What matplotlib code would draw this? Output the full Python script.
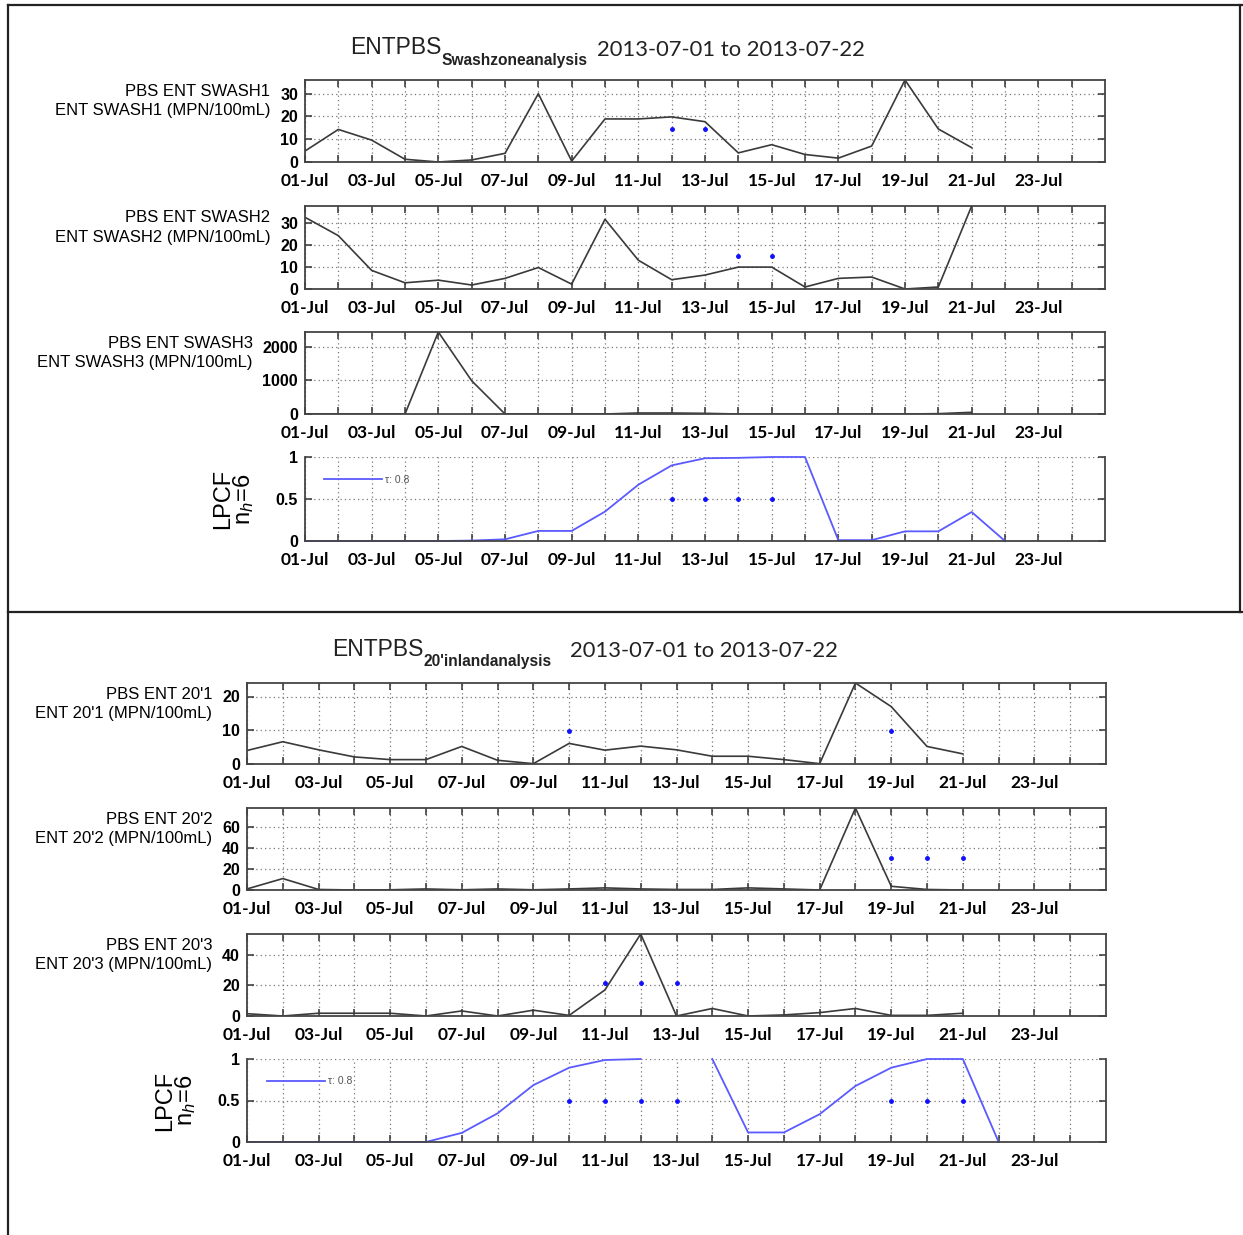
import numpy as np
import matplotlib
matplotlib.use("Agg")
import matplotlib.pyplot as plt
from matplotlib.lines import Line2D
from matplotlib.ticker import FormatStrFormatter

plt.rcParams['font.family'] = ['Liberation Sans', 'DejaVu Sans']
plt.rcParams['mathtext.fontset'] = 'custom'
plt.rcParams['mathtext.rm'] = 'Liberation Sans'
plt.rcParams['mathtext.it'] = 'Liberation Sans:italic'

# ---- data (day of July) ----
days = np.arange(1, 22)
lpcf_days = np.arange(1, 23)
tick_days = np.arange(1, 25)
tick_labels = ['01-Jul', '03-Jul', '05-Jul', '07-Jul', '09-Jul', '11-Jul',
               '13-Jul', '15-Jul', '17-Jul', '19-Jul', '21-Jul', '23-Jul']

# swash zone
swash1 = [4.8, 14.3, 9.6, 1.2, 0, 0.9, 3.8, 30, 0.4, 18.9, 18.9, 19.8, 17.7,
          4, 7.6, 3.3, 1.7, 7, 36, 14.5, 6.3]
swash2 = [32.4, 24.1, 8.4, 2.8, 4, 1.8, 4.8, 9.7, 2.2, 31.5, 13, 4.2, 6.3,
          9.9, 9.9, 0.9, 4.8, 5.4, 0, 0.9, 37.5]
swash3 = [0, 0, 0, 0, 2430, 985, 0, 0, 0, 0, 30, 30, 20, 0, 0, 0, 0, 0, 0,
          10, 50]
lpcf_swash = [0, 0, 0, 0, 0, 0.005, 0.02, 0.12, 0.12, 0.35, 0.67, 0.9, 0.985,
              0.99, 1.0, 1.0, 0.01, 0.01, 0.115, 0.115, 0.345, 0.0]

swash1_dot_days, swash1_dot_vals = [12, 13], [14.3, 14.3]
swash2_dot_days, swash2_dot_vals = [14, 15], [15.1, 15.1]
lpcf_swash_dot_days = [12, 13, 14, 15]

# 20' inland
inl1 = [4.0, 6.6, 4.2, 2.1, 1.3, 1.3, 5.2, 1.1, 0.1, 6.1, 4.1, 5.3, 4.2,
        2.3, 2.3, 1.3, 0.1, 24, 17, 5.2, 3.0]
inl2 = [1, 10.8, 0.5, 0, 0.2, 1, 0.2, 1, 0.2, 1, 2, 1, 0.5, 0.5, 2, 1, 0,
        77.5, 3.5, 0.5, 0]
inl3 = [1.5, 0, 1.8, 1.8, 1.8, 0, 3.3, 0, 3.8, 0.4, 17, 53.5, 0, 4.9, 0,
        0.7, 2.2, 4.9, 0.4, 0.4, 1.8]
lpcf_inland = [0, 0, 0, 0, 0, 0, 0.11, 0.345, 0.685, 0.895, 0.988, 1.0,
               np.nan, 1.0, 0.115, 0.115, 0.335, 0.675, 0.895, 1.0, 1.0, 0.0]

inl1_dot_days, inl1_dot_vals = [10, 19], [9.7, 9.7]
inl2_dot_days, inl2_dot_vals = [19, 20, 21], [30.3, 30.3, 30.3]
inl3_dot_days, inl3_dot_vals = [11, 12, 13], [21.3, 21.3, 21.3]
lpcf_inland_dot_days = [10, 11, 12, 13, 19, 20, 21]

W, H = 1243, 1235
fig = plt.figure(figsize=(W / 100, H / 100), dpi=100)


def box(x0, y0, x1, y1):
    # pixel box (top-left origin) -> figure fraction rect
    return [x0 / W, 1 - y1 / H, (x1 - x0) / W, (y1 - y0) / H]


def style_axis(ax, yticks, ymax):
    ax.set_xlim(1, 25)
    ax.set_ylim(0, ymax)
    ax.set_xticks(tick_days)
    labels = [tick_labels[i // 2] if i % 2 == 0 else '' for i in range(len(tick_days))]
    ax.set_xticklabels(labels, fontfamily='Lato', fontweight='bold', fontsize=12.5)
    ax.set_yticks(yticks)
    ax.yaxis.set_major_formatter(FormatStrFormatter('%g'))
    for lab in ax.get_yticklabels():
        lab.set_fontweight('bold')
        lab.set_fontsize(11.5)
    ax.tick_params(direction='in', top=True, right=True, length=5, width=1.1,
                   color='#333333')
    ax.tick_params(axis='x', pad=8)
    ax.tick_params(axis='y', pad=5)
    ax.grid(True, linestyle=(0, (1, 2.5)), color='#777777', linewidth=0.9)
    for s in ax.spines.values():
        s.set_linewidth(1.3)
        s.set_color('#444444')


def data_axis(rect, vals, dot_days, dot_vals, name, unit, yticks):
    ax = fig.add_axes(rect)
    ax.plot(days, vals, color='#3a3a3a', linewidth=1.2)
    ax.plot(dot_days, dot_vals, 'o', color='#1010ff', markersize=2.5)
    style_axis(ax, yticks, np.nanmax(vals))
    ax.set_ylabel(name + '\n' + unit, rotation=0, ha='right', va='center',
                  y=0.74, fontsize=12, labelpad=7, linespacing=1.35)
    return ax


def lpcf_axis(rect, vals, dot_days):
    ax = fig.add_axes(rect)
    ax.plot(lpcf_days, vals, color='#5a5aff', linewidth=1.3, label='τ: 0.8',
            clip_on=False)
    ax.plot(dot_days, [0.5] * len(dot_days), 'o', color='#1010ff',
            markersize=2.5)
    style_axis(ax, [0, 0.5, 1], 1)
    ax.spines['top'].set_visible(False)
    ax.tick_params(top=False)
    ax.set_ylabel('LPCF\nn$_{\\mathit{h}}$=6', fontsize=17, labelpad=14,
                  linespacing=0.85)
    leg = ax.legend(loc='center left', bbox_to_anchor=(0.018, 0.73),
                    frameon=False, fontsize=7.5, handlelength=5.6,
                    handletextpad=0.3, borderaxespad=0)
    for t in leg.get_texts():
        t.set_color('#555555')
    return ax


# top panel: swash zone
data_axis(box(305, 80, 1105, 162), swash1, swash1_dot_days, swash1_dot_vals,
          'PBS ENT SWASH1', 'ENT SWASH1 (MPN/100mL)', [0, 10, 20, 30])
data_axis(box(305, 206, 1105, 289), swash2, swash2_dot_days, swash2_dot_vals,
          'PBS ENT SWASH2', 'ENT SWASH2 (MPN/100mL)', [0, 10, 20, 30])
data_axis(box(305, 332, 1105, 414), swash3, [], [],
          'PBS ENT SWASH3', 'ENT SWASH3 (MPN/100mL)', [0, 1000, 2000])
lpcf_axis(box(305, 457, 1105, 541), lpcf_swash, lpcf_swash_dot_days)

# bottom panel: 20' inland
data_axis(box(247, 683, 1106, 764), inl1, inl1_dot_days, inl1_dot_vals,
          "PBS ENT 20'1", "ENT 20'1 (MPN/100mL)", [0, 10, 20])
data_axis(box(247, 808, 1106, 890), inl2, inl2_dot_days, inl2_dot_vals,
          "PBS ENT 20'2", "ENT 20'2 (MPN/100mL)", [0, 20, 40, 60])
data_axis(box(247, 934, 1106, 1016), inl3, inl3_dot_days, inl3_dot_vals,
          "PBS ENT 20'3", "ENT 20'3 (MPN/100mL)", [0, 20, 40])
lpcf_axis(box(247, 1059, 1106, 1142), lpcf_inland, lpcf_inland_dot_days)


def title(x_main, y_main, sub, x_date):
    t = fig.text(x_main / W, 1 - y_main / H, 'ENTPBS', fontsize=16.5,
                 ha='left', va='center', color='#222222')
    fig.add_artist(matplotlib.text.Annotation(
        sub, xy=(1.0, 0.3), xycoords=t, xytext=(0, 0),
        textcoords='offset points', ha='left', va='top', fontsize=11.2,
        fontweight='bold', color='#222222'))
    fig.text(x_date / W, 1 - (y_main + 2) / H, '2013-07-01 to 2013-07-22',
             fontfamily='Lato', fontsize=15.8, ha='left', va='center',
             color='#222222')


title(350, 48, 'Swashzoneanalysis', 597)
title(332, 649, "20'inlandanalysis", 570)


# frame lines
def fline(x0, y0, x1, y1):
    fig.add_artist(Line2D([x0 / W, x1 / W], [1 - y0 / H, 1 - y1 / H],
                          color='#222222', linewidth=1.6,
                          transform=fig.transFigure))


fline(8, 5, 1243, 5)
fline(8, 5, 8, 1235)
fline(8, 612, 1243, 612)
fline(1240, 5, 1240, 612)

fig.savefig('out.png', dpi=100)
